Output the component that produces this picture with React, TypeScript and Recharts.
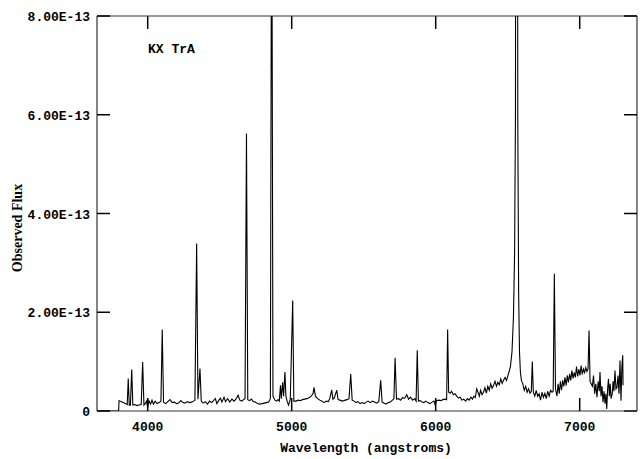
import React from "react";
import { LineChart, Line, XAxis, YAxis, ReferenceLine } from "recharts";

// wavelength (angstroms) and observed flux in units of 1E-13
const wavelengths = [
  3660, 3798, 3801, 3815, 3830, 3845, 3858, 3865, 3872, 3880, 3889, 3897, 3910, 3925, 3940, 3955,
  3965, 3974, 3985, 3992, 4000, 4008, 4020, 4030, 4040, 4052, 4065, 4080, 4092, 4101, 4110, 4125,
  4140, 4155, 4170, 4185, 4200, 4215, 4230, 4245, 4260, 4275, 4290, 4305, 4318, 4328, 4340, 4349,
  4363, 4372, 4385, 4400, 4415, 4430, 4445, 4460, 4470, 4480, 4495, 4505, 4515, 4530, 4540, 4555,
  4570, 4585, 4600, 4615, 4628, 4640, 4655, 4668, 4676, 4686, 4695, 4708, 4720, 4733, 4748, 4762,
  4778, 4795, 4810, 4825, 4840, 4852, 4861, 4870, 4884, 4895, 4905, 4914, 4922, 4928, 4937, 4944,
  4953, 4960, 4968, 4978, 4990, 5007, 5015, 5030, 5045, 5060, 5075, 5090, 5105, 5120, 5135, 5148,
  5155, 5165, 5180, 5195, 5210, 5225, 5240, 5255, 5265, 5278, 5286, 5295, 5313, 5322, 5335, 5350,
  5362, 5372, 5385, 5398, 5410, 5420, 5433, 5447, 5460, 5475, 5490, 5505, 5518, 5530, 5545, 5560,
  5575, 5590, 5605, 5618, 5628, 5640, 5655, 5670, 5685, 5700, 5710, 5718, 5728, 5742, 5756, 5770,
  5785, 5799, 5812, 5825, 5840, 5855, 5864, 5872, 5880, 5892, 5905, 5918, 5930, 5945, 5960, 5975,
  5988, 5997, 6005, 6020, 6035, 6050, 6065, 6076, 6083, 6090, 6100, 6110, 6122, 6134, 6146, 6158,
  6170, 6182, 6195, 6208, 6220, 6232, 6245, 6255, 6265, 6275, 6285, 6294, 6303, 6312, 6322, 6332,
  6342, 6352, 6362, 6372, 6382, 6392, 6402, 6412, 6422, 6432, 6442, 6452, 6462, 6472, 6482, 6492,
  6502, 6510, 6519, 6530, 6540, 6548, 6554, 6558, 6566, 6570, 6576, 6582, 6588, 6595, 6605, 6615,
  6625, 6635, 6645, 6655, 6664, 6671, 6678, 6688, 6698, 6708, 6718, 6728, 6738, 6748, 6758, 6768,
  6778, 6788, 6798, 6808, 6816, 6824, 6832, 6842, 6850, 6858, 6866, 6874, 6882, 6890, 6898, 6906,
  6914, 6922, 6930, 6938, 6946, 6954, 6962, 6970, 6978, 6986, 6994, 7002, 7010, 7018, 7026, 7034,
  7042, 7050, 7058, 7065, 7072, 7080, 7088, 7096, 7104, 7112, 7120, 7128, 7136, 7141, 7148, 7155,
  7162, 7169, 7176, 7182, 7188, 7194, 7200, 7206, 7212, 7218, 7226, 7232, 7238, 7245, 7252, 7259,
  7266, 7273, 7280, 7287, 7293, 7299, 7301,
];

const fluxes = [
  0, 0, 0.21, 0.19, 0.17, 0.15, 0.13, 0.66, 0.12, 0.12, 0.84, 0.12, 0.13, 0.11, 0.12, 0.13,
  0.99, 0.12, 0.16, 0.2, 0.07, 0.21, 0.14, 0.22, 0.14, 0.2, 0.15, 0.17, 0.2, 1.65, 0.18, 0.15,
  0.19, 0.23, 0.17, 0.18, 0.15, 0.16, 0.21, 0.17, 0.16, 0.19, 0.17, 0.18, 0.2, 0.22, 3.39, 0.24,
  0.86, 0.2, 0.16, 0.19, 0.14, 0.2, 0.17, 0.22, 0.25, 0.15, 0.22, 0.26, 0.18, 0.28, 0.19, 0.25,
  0.18, 0.24, 0.2, 0.25, 0.32, 0.22, 0.2, 0.24, 0.25, 5.62, 0.23, 0.21, 0.24, 0.19, 0.18, 0.15,
  0.14, 0.15, 0.16, 0.17, 0.18, 0.25, 12, 0.3, 0.22, 0.2, 0.23, 0.2, 0.52, 0.25, 0.58, 0.3,
  0.79, 0.3, 0.2, 0.12, 0.23, 2.24, 0.2, 0.2, 0.22, 0.21, 0.23, 0.24, 0.25, 0.27, 0.3, 0.35,
  0.48, 0.3, 0.25, 0.22, 0.2, 0.17, 0.2, 0.19, 0.26, 0.43, 0.24, 0.26, 0.42, 0.23, 0.22, 0.2,
  0.21, 0.22, 0.23, 0.25, 0.75, 0.22, 0.2, 0.17, 0.19, 0.15, 0.17, 0.15, 0.18, 0.2, 0.17, 0.2,
  0.18, 0.16, 0.19, 0.62, 0.18, 0.16, 0.14, 0.17, 0.18, 0.22, 0.25, 1.08, 0.24, 0.25, 0.22, 0.27,
  0.26, 0.33, 0.24, 0.28, 0.22, 0.25, 0.2, 1.23, 0.2, 0.21, 0.18, 0.17, 0.2, 0.17, 0.15, 0.18,
  0.2, 0.12, 0.21, 0.22, 0.21, 0.23, 0.24, 0.23, 1.65, 0.38, 0.36, 0.4, 0.33, 0.35, 0.3, 0.26,
  0.28, 0.22, 0.24, 0.2, 0.25, 0.22, 0.28, 0.24, 0.3, 0.27, 0.45, 0.38, 0.3, 0.42, 0.33, 0.38,
  0.47, 0.36, 0.5, 0.42, 0.55, 0.46, 0.52, 0.6, 0.5, 0.58, 0.53, 0.65, 0.56, 0.63, 0.68, 0.62,
  0.72, 0.8, 0.9, 1.2, 1.9, 3.2, 6, 22, 22, 6, 2.4, 1.2, 0.8, 0.62, 0.55, 0.42,
  0.5, 0.38, 0.45, 0.36, 0.4, 1.0, 0.38, 0.3, 0.42, 0.3, 0.35, 0.22, 0.38, 0.28, 0.36, 0.25,
  0.4, 0.3, 0.42, 0.38, 0.4, 2.78, 0.45, 0.3, 0.55, 0.35, 0.6, 0.42, 0.62, 0.5, 0.68, 0.52,
  0.72, 0.58, 0.75, 0.62, 0.82, 0.66, 0.78, 0.68, 0.9, 0.7, 0.85, 0.72, 0.92, 0.74, 0.85, 0.78,
  0.88, 0.8, 0.85, 1.63, 0.6, 0.55, 0.5, 0.72, 0.35, 0.55, 0.28, 0.6, 0.4, 0.79, 0.3, 0.5,
  0.18, 0.4, 0.15, 0.35, 0.04, 0.45, 0.65, 0.3, 0.55, 0.25, 0.35, 0.6, 0.4, 0.82, 0.45, 0.48,
  0.72, 0.35, 1.02, 0.21, 0.9, 1.13, 0.52,
];

const xTicks = [4000, 5000, 6000, 7000];
const yTicks = [0, 2, 4, 6, 8];
const X_DOMAIN = [3648, 7398];
const Y_DOMAIN = [0, 8];

const data = wavelengths.map((w, i) => ({ wave: w, flux: fluxes[i] }));

const FONT = "'Liberation Mono', 'DejaVu Sans Mono', monospace";
const TICK_LEN = 13;
// inward tick lengths for the top / right frame, in data units (540px = 3750 A, 395px = 8 units)
const TOP_TICK = (TICK_LEN / 395) * 8;
const RIGHT_TICK = (TICK_LEN / 540) * 3750;

const fmtY = (v: number) => (v === 0 ? "0" : `${v.toFixed(2)}E-13`);

function BottomTick(props: any) {
  const { x, y, payload } = props;
  return (
    <g>
      <line x1={x} y1={y} x2={x} y2={y - TICK_LEN} stroke="#000" strokeWidth={1.5} />
      <text x={x} y={y + 20} textAnchor="middle" fontFamily={FONT} fontWeight="bold" fontSize={13} fill="#000">
        {payload.value}
      </text>
    </g>
  );
}

function LeftTick(props: any) {
  const { x, y, payload } = props;
  return (
    <g>
      <line x1={x} y1={y} x2={x + TICK_LEN} y2={y} stroke="#000" strokeWidth={1.5} />
      <text x={x - 7} y={y + 5} textAnchor="end" fontFamily={FONT} fontWeight="bold" fontSize={13} fill="#000">
        {fmtY(payload.value)}
      </text>
    </g>
  );
}

const frame = { stroke: "#333", strokeWidth: 1.2 };

export default function App() {
  return (
    <div style={{ position: "absolute", left: 0, top: 0, width: 642, height: 459, background: "#fff" }}>
      <LineChart width={642} height={459} data={data} margin={{ top: 16, right: 5, bottom: 0, left: 0 }}>
        <XAxis
          dataKey="wave"
          type="number"
          domain={X_DOMAIN}
          ticks={xTicks}
          allowDataOverflow
          height={48}
          tickLine={false}
          tickSize={0}
          tickMargin={0}
          axisLine={frame}
          tick={<BottomTick />}
        />
        <YAxis
          type="number"
          domain={Y_DOMAIN}
          ticks={yTicks}
          allowDataOverflow
          width={97}
          tickLine={false}
          tickSize={0}
          tickMargin={0}
          axisLine={frame}
          tick={<LeftTick />}
        />
        {/* top and right sides of the frame */}
        <ReferenceLine y={Y_DOMAIN[1]} stroke="#333" strokeWidth={1.2} />
        <ReferenceLine x={X_DOMAIN[1]} stroke="#333" strokeWidth={1.2} />
        {xTicks.map((t) => (
          <ReferenceLine
            key={`top-${t}`}
            segment={[
              { x: t, y: Y_DOMAIN[1] },
              { x: t, y: Y_DOMAIN[1] - TOP_TICK },
            ]}
            stroke="#000"
            strokeWidth={1.5}
          />
        ))}
        {yTicks.map((t) => (
          <ReferenceLine
            key={`right-${t}`}
            segment={[
              { x: X_DOMAIN[1], y: t },
              { x: X_DOMAIN[1] - RIGHT_TICK, y: t },
            ]}
            stroke="#000"
            strokeWidth={1.5}
          />
        ))}
        <Line
          type="linear"
          dataKey="flux"
          stroke="#000"
          strokeWidth={1.1}
          dot={false}
          isAnimationActive={false}
        />
      </LineChart>
      <svg width={642} height={459} style={{ position: "absolute", left: 0, top: 0, pointerEvents: "none" }}>
        <text x={148} y={53} fontFamily={FONT} fontWeight="bold" fontSize={13} fill="#000">
          KX TrA
        </text>
        <text x={366} y={452} textAnchor="middle" fontFamily={FONT} fontWeight="bold" fontSize={13} fill="#000">
          Wavelength (angstroms)
        </text>
        <text
          x={22}
          y={228}
          transform="rotate(-90 22 228)"
          textAnchor="middle"
          fontFamily="'Liberation Serif', serif"
          fontWeight="bold"
          fontSize={14}
          fill="#000"
        >
          Observed Flux
        </text>
      </svg>
    </div>
  );
}
